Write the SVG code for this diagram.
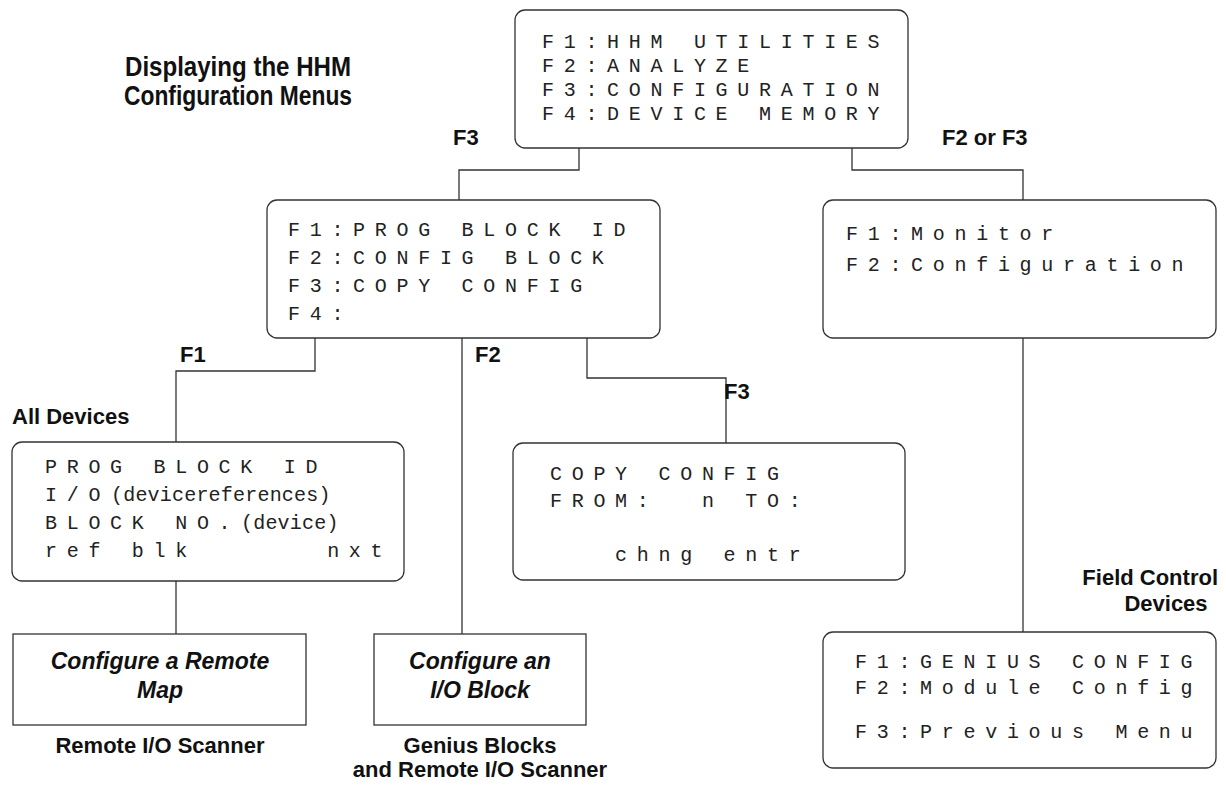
<svg xmlns="http://www.w3.org/2000/svg" width="1226" height="790" viewBox="0 0 1226 790">
<style>
.box{fill:#fff;stroke:#333;stroke-width:1.3}
.mono{font-family:"Liberation Mono","Courier New",monospace;font-size:20px;fill:#222;letter-spacing:9.7px;white-space:pre}
.tight{letter-spacing:0.2px}
.lbl{font-family:"Liberation Sans",Arial,sans-serif;font-weight:bold;font-size:22px;fill:#111}
.ttl{font-family:"Liberation Sans",Arial,sans-serif;font-weight:bold;font-size:27px;fill:#111}
.it{font-family:"Liberation Sans",Arial,sans-serif;font-weight:bold;font-style:italic;font-size:23px;fill:#111}
.conn{fill:none;stroke:#333;stroke-width:1.3}
</style>
<rect width="1226" height="790" fill="#fff"/>
<g id="title">
<text class="ttl" x="125" y="76" textLength="226" lengthAdjust="spacingAndGlyphs">Displaying the HHM</text>
<text class="ttl" x="124" y="105" textLength="228" lengthAdjust="spacingAndGlyphs">Configuration Menus</text>
</g>
<g id="connectors">
<path class="conn" d="M579,148 V170 H459 V200"/>
<path class="conn" d="M852,148 V170 H1023 V200"/>
<path class="conn" d="M315,338 V371 H176 V442"/>
<path class="conn" d="M462,338 V634"/>
<path class="conn" d="M587,338 V378 H726 V443"/>
<path class="conn" d="M1023,338 V632"/>
<path class="conn" d="M176,581 V634"/>
</g>
<g id="labels">
<text class="lbl" x="453" y="145">F3</text>
<text class="lbl" x="942" y="145">F2 or F3</text>
<text class="lbl" x="180" y="362">F1</text>
<text class="lbl" x="475" y="362">F2</text>
<text class="lbl" x="724" y="399">F3</text>
<text class="lbl" x="12" y="424">All Devices</text>
<text class="lbl" x="1218" y="585" text-anchor="end">Field Control</text>
<text class="lbl" x="1166" y="611" text-anchor="middle">Devices</text>
<text class="lbl" x="160" y="753" text-anchor="middle">Remote I/O Scanner</text>
<text class="lbl" x="480" y="753" text-anchor="middle">Genius Blocks</text>
<text class="lbl" x="480" y="777" text-anchor="middle">and Remote I/O Scanner</text>
</g>
<g id="main-menu">
<rect class="box" x="515" y="10" width="393" height="138" rx="10"/>
<text class="mono" x="542" y="48">F1:HHM UTILITIES</text>
<text class="mono" x="542" y="72">F2:ANALYZE</text>
<text class="mono" x="542" y="96">F3:CONFIGURATION</text>
<text class="mono" x="542" y="120">F4:DEVICE MEMORY</text>
</g>
<g id="config-menu">
<rect class="box" x="267" y="200" width="393" height="138" rx="10"/>
<text class="mono" x="288" y="236">F1:PROG BLOCK ID</text>
<text class="mono" x="288" y="264">F2:CONFIG BLOCK</text>
<text class="mono" x="288" y="292">F3:COPY CONFIG</text>
<text class="mono" x="288" y="320">F4:</text>
</g>
<g id="field-menu">
<rect class="box" x="823" y="200" width="393" height="138" rx="10"/>
<text class="mono" x="846" y="240">F1:Monitor</text>
<text class="mono" x="846" y="271">F2:Configuration</text>
</g>
<g id="prog-block-id">
<rect class="box" x="12" y="442" width="392" height="139" rx="10"/>
<text class="mono" x="45" y="473">PROG BLOCK ID</text>
<text class="mono" x="45" y="501">I/O</text>
<text class="mono tight" x="111" y="501">(devicereferences)</text>
<text class="mono" x="45" y="529">BLOCK NO.</text>
<text class="mono tight" x="241" y="529">(device)</text>
<text class="mono" x="45" y="557">ref blk      nxt</text>
</g>
<g id="copy-config">
<rect class="box" x="513" y="443" width="392" height="137" rx="10"/>
<text class="mono" x="550" y="480">COPY CONFIG</text>
<text class="mono" x="550" y="507">FROM:  n TO:</text>
<text class="mono" x="550" y="561">   chng entr</text>
</g>
<g id="genius-menu">
<rect class="box" x="823" y="632" width="393" height="136" rx="10"/>
<text class="mono" x="855" y="668">F1:GENIUS CONFIG</text>
<text class="mono" x="855" y="694">F2:Module Config</text>
<text class="mono" x="855" y="738">F3:Previous Menu</text>
</g>
<g id="remote-map">
<rect class="box" x="13" y="634" width="293" height="91"/>
<text class="it" x="160" y="669" text-anchor="middle">Configure a Remote</text>
<text class="it" x="160" y="698" text-anchor="middle">Map</text>
</g>
<g id="io-block">
<rect class="box" x="374" y="634" width="212" height="91"/>
<text class="it" x="480" y="669" text-anchor="middle">Configure an</text>
<text class="it" x="480" y="698" text-anchor="middle">I/O Block</text>
</g>
</svg>
